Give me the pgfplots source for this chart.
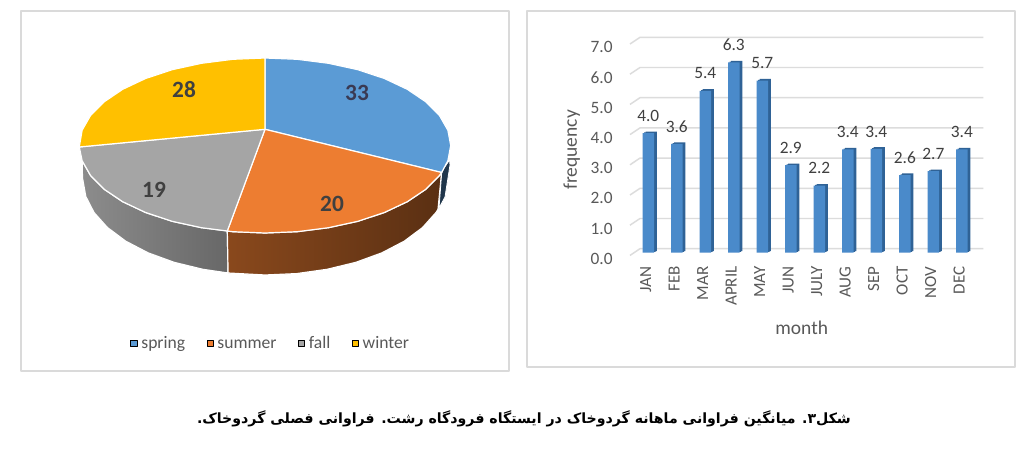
\documentclass[border=0pt]{standalone}
\usepackage{fontspec}
\usepackage{pgfplots}
\pgfplotsset{compat=1.18}
\setmainfont{Carlito}
\newfontfamily\arabicfont[Script=Arabic]{DejaVu Sans}
\TeXXeTstate=1
\definecolor{cblue}{HTML}{5B9BD5}
\definecolor{corange}{HTML}{ED7D31}
\definecolor{cgray}{HTML}{A5A5A5}
\definecolor{cyellow}{HTML}{FFC000}
\definecolor{framec}{HTML}{DADADA}
\definecolor{gridc}{HTML}{DCDCDC}
\definecolor{barfront}{HTML}{4A8ACA}
\definecolor{barside}{HTML}{2F6296}
\definecolor{txt}{HTML}{595959}
\definecolor{lab}{HTML}{404040}
\begin{document}
\begin{tikzpicture}[x=0.75pt,y=0.75pt]
% canvas axis in pixels of the reference: frames, pie, grid
\begin{axis}[
at={(0pt,0pt)},anchor=south west,
scale only axis,width=768pt,height=339pt,
xmin=0,xmax=1024,ymin=0,ymax=452,y dir=reverse,
hide axis,clip=false,
every axis plot/.append style={forget plot,no markers,line join=round},
legend image code/.code={\fill[#1] (-2.4pt,-0.5pt) rectangle (2.4pt,4.3pt);},
legend style={at={(0.2647,0.2355)},anchor=center,draw=none,fill=none,
  legend columns=-1,font=\fontsize{13.2pt}{15pt}\selectfont,text=txt,
  /tikz/every even column/.append style={column sep=14pt},
  /tikz/every odd column/.append style={column sep=1pt},
  nodes={inner xsep=2pt,text height=1.5ex,text depth=0.5ex}},
]
\addplot[draw=none,fill=white] coordinates {(0,0)(1024,0)(1024,452)(0,452)} -- cycle;
% panel frames
\addplot[framec,line width=1.5pt] coordinates {(21,11.5)(508.5,11.5)(508.5,371)(21,371)} -- cycle;
\addplot[framec,line width=1.5pt] coordinates {(527,11.5)(1015,11.5)(1015,367)(527,367)} -- cycle;
% pie sides
\addplot[draw=white,line width=0.9pt,left color=black!45,right color=black!60] coordinates {
(227.3,231)(232.8,231.7)(201.5,227.7)(172.1,221.3)(145.6,212.5)(122.7,201.7)(104.2,189.3)(90.5,175.4)(82.1,160.7)
(82.5,178)(85.8,196.5)(94,212.5)(107.4,227.5)(125.6,241.1)(148,252.8)(174,262.3)(202.8,269.3)(228.1,273)} -- cycle;
\addplot[draw=white,line width=0.9pt,left color=corange!58!black,middle color=corange!40!black,right color=corange!38!black] coordinates {
(227.3,231)(232.8,231.7)(265,233)(297.2,231.7)(328.5,227.7)(357.9,221.3)(384.4,212.5)(407.3,201.7)(425.8,189.3)(439.5,175.4)(441.6,172.5)
(438,209.4)(436,212.5)(422.6,227.5)(404.4,241.1)(382,252.8)(356,262.3)(327.2,269.3)(296.6,273.6)(265,275)(228.1,273)} -- cycle;
\addplot[draw=white,line width=0.6pt,fill=cblue!35!black] coordinates {
(441.7,173)(444,168)(449.5,160)(450,165)(445,197)(439,208)} -- cycle;
% pie top, one wedge a series: spring, summer, fall, winter
\addplot[draw=white,line width=0.9pt,fill=cblue] coordinates {
(265,129.3)(265,58)(297.2,59.3)(328.5,63.3)(357.9,69.7)(384.4,78.5)(407.3,89.3)(425.8,101.8)(439.5,115.6)(447.9,130.3)(450.7,145.5)(447.9,160.7)(441.6,172.5)} -- cycle;
\addplot[draw=white,line width=0.9pt,fill=corange] coordinates {
(265,129.3)(441.6,172.5)(439.5,175.4)(425.8,189.3)(407.3,201.7)(384.4,212.5)(357.9,221.3)(328.5,227.7)(297.2,231.7)(265,233)(232.8,231.7)(227.3,231)} -- cycle;
\addplot[draw=white,line width=0.9pt,fill=cgray] coordinates {
(265,129.3)(227.3,231)(201.5,227.7)(172.1,221.3)(145.6,212.5)(122.7,201.7)(104.2,189.3)(90.5,175.4)(82.1,160.7)(79.3,147)} -- cycle;
\addplot[draw=white,line width=0.9pt,fill=cyellow] coordinates {
(265,129.3)(79.3,147)(82.1,130.3)(90.5,115.6)(104.2,101.8)(122.7,89.3)(145.6,78.5)(172.1,69.7)(201.5,63.3)(232.8,59.3)(265,58)} -- cycle;
% right chart: wall grid lines with the floor stubs
\addplot[gridc,line width=1.1pt,unbounded coords=jump] coordinates {
(630,44)(640,37.3)(983.3,37.3)(630,nan)
(630,74.2)(640,67.5)(983.3,67.5)(630,nan)
(630,104.4)(640,97.7)(983.3,97.7)(630,nan)
(630,134.6)(640,127.9)(983.3,127.9)(630,nan)
(630,164.8)(640,158.1)(983.3,158.1)(630,nan)
(630,195)(640,188.3)(983.3,188.3)(630,nan)
(630,225.2)(640,218.5)(983.3,218.5)(630,nan)
(630,255.4)(640,248.7)(983.3,248.7)};
% pie value labels
\node[font=\fontsize{17.5pt}{19pt}\selectfont\bfseries,text=lab!90!blue] at (axis cs:357,93) {33};
\node[font=\fontsize{17.5pt}{19pt}\selectfont\bfseries,text=lab] at (axis cs:332,204) {20};
\node[font=\fontsize{17.5pt}{19pt}\selectfont\bfseries,text=lab] at (axis cs:154,190) {19};
\node[font=\fontsize{17.5pt}{19pt}\selectfont\bfseries,text=lab] at (axis cs:184,90) {28};
% caption
\node[font=\arabicfont\bfseries\fontsize{10.6pt}{12pt}\selectfont,text=black] at (axis cs:524,419)
 {\beginR شکل۳. میانگین فراوانی ماهانه گردوخاک در ایستگاه فرودگاه رشت. فراوانی فصلی گردوخاک.\endR};
\addlegendimage{fill=cblue}
\addlegendentry{spring}
\addlegendimage{fill=corange}
\addlegendentry{summer}
\addlegendimage{fill=cgray}
\addlegendentry{fall}
\addlegendimage{fill=cyellow}
\addlegendentry{winter}
\end{axis}
% monthly frequency bars
\begin{axis}[
at={(480pt,149.475pt)},anchor=south west,
scale only axis,width=257.475pt,height=158.55pt,
xmin=-0.291,xmax=11.754,ymin=0,ymax=7,
axis lines=none,hide x axis=false,hide y axis=false,
axis line style={draw=none},
tick style={draw=none},
clip=false,
xtick={0,...,11},
xticklabels={JAN,FEB,MAR,APRIL,MAY,JUN,JULY,AUG,SEP,OCT,NOV,DEC},
x tick label style={rotate=90,anchor=east,font=\fontsize{12.75pt}{14pt}\selectfont,text=txt,xshift=-2.5pt,yshift=2pt},
ytick={0,...,7},
y tick label style={font=\fontsize{13pt}{14pt}\selectfont,text=txt,yshift=-4.5pt,xshift=-17pt},
yticklabel style={/pgf/number format/.cd,fixed,fixed zerofill,precision=1,assume math mode=true},
xlabel={month},ylabel={frequency},
x label style={at={(axis description cs:0.471,-0.356)},anchor=center,font=\fontsize{14.6pt}{16pt}\selectfont,text=txt},
y label style={at={(axis description cs:-0.199,0.486)},anchor=center,font=\fontsize{14.6pt}{16pt}\selectfont,text=txt},
ybar,bar width=8.6pt,
]
\addplot[fill=barside,draw=none,bar shift=2.2pt,yshift=1.2pt,forget plot] coordinates {(0,3.96)(1,3.6)(2,5.36)(3,6.3)(4,5.7)(5,2.9)(6,2.22)(7,3.42)(8,3.44)(9,2.57)(10,2.7)(11,3.42)};
\addplot[fill=barside,draw=none,bar shift=1.1pt,yshift=0.6pt,forget plot] coordinates {(0,3.96)(1,3.6)(2,5.36)(3,6.3)(4,5.7)(5,2.9)(6,2.22)(7,3.42)(8,3.44)(9,2.57)(10,2.7)(11,3.42)};
\addplot[fill=barfront,draw=none,bar shift=0pt,
 nodes near coords,
 every node near coord/.append style={anchor=center,yshift=13pt,font=\fontsize{13pt}{14pt}\selectfont,text=lab,
  /pgf/number format/.cd,fixed,fixed zerofill,precision=1,assume math mode=true},
] coordinates {(0,3.96)(1,3.6)(2,5.36)(3,6.3)(4,5.7)(5,2.9)(6,2.22)(7,3.42)(8,3.44)(9,2.57)(10,2.7)(11,3.42)};
\end{axis}
\end{tikzpicture}
\end{document}
